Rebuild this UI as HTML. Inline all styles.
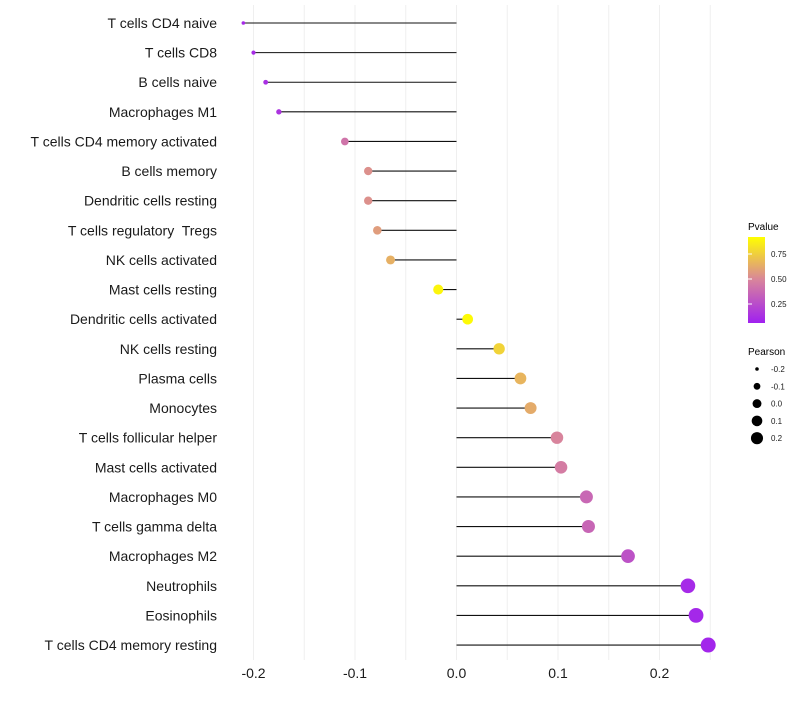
<!DOCTYPE html>
<html><head><meta charset="utf-8"><style>
body{margin:0;background:#fff;font-family:"Liberation Sans",sans-serif}
text{white-space:pre}
</style></head><body>
<svg id="chart" width="800" height="700" xmlns="http://www.w3.org/2000/svg" font-family="Liberation Sans, sans-serif">
<defs><linearGradient id="pg" x1="0" y1="1" x2="0" y2="0">
<stop offset="0" stop-color="#a020f0"/><stop offset="0.5" stop-color="#d8849c"/><stop offset="1" stop-color="#ffff00"/></linearGradient></defs>
<g id="grid"></g><g id="marks"></g><g id="labels"></g><g id="xaxis"></g>
<g id="legend">
<text x="748" y="230" font-size="10">Pvalue</text>
<rect x="748" y="237" width="17" height="86" fill="url(#pg)"/>
<g id="cticks"></g>
<text x="748" y="355" font-size="10">Pearson</text>
<g id="sizeleg"></g>
</g>
</svg>
<script>
const categories=["T cells CD4 naive","T cells CD8","B cells naive","Macrophages M1","T cells CD4 memory activated","B cells memory","Dendritic cells resting","T cells regulatory  Tregs","NK cells activated","Mast cells resting","Dendritic cells activated","NK cells resting","Plasma cells","Monocytes","T cells follicular helper","Mast cells activated","Macrophages M0","T cells gamma delta","Macrophages M2","Neutrophils","Eosinophils","T cells CD4 memory resting"];
const pearson=[-0.21,-0.2,-0.188,-0.175,-0.11,-0.087,-0.087,-0.078,-0.065,-0.018,0.011,0.042,0.063,0.073,0.099,0.103,0.128,0.13,0.169,0.228,0.236,0.248];
const pvalues=[0.05,0.06,0.08,0.1,0.42,0.55,0.55,0.6,0.68,0.96,0.98,0.82,0.7,0.66,0.5,0.46,0.36,0.35,0.25,0.05,0.04,0.03];
const xTicks=[-0.2,-0.1,0,0.1,0.2];
const xTickLabels=["-0.2","-0.1","0.0","0.1","0.2"];
const sizeLegend=[-0.2,-0.1,0,0.1,0.2];
const colorTicks=[0.25,0.5,0.75];
const NS="http://www.w3.org/2000/svg";
const x=v=>456.5+v*1015;
const y=i=>23+i*29.62;
const rad=v=>Math.sqrt(3.24+Math.max(0,v+0.21)/0.458*52.8);
const pY=p=>329-p*100;
function lerp(a,b,t){return a.map((c,k)=>Math.round(c+(b[k]-c)*t));}
function col(p){const P=[160,32,240],M=[216,132,156],Y=[255,255,0];
 const c=p<0.5?lerp(P,M,p/0.5):lerp(M,Y,(p-0.5)/0.5);return `rgb(${c})`;}
function mk(tag,at,parent){const e=document.createElementNS(NS,tag);for(const k in at)e.setAttribute(k,at[k]);document.getElementById(parent).appendChild(e);return e;}
for(let v=-0.2;v<=0.251;v+=0.05){const g=mk('line',{x1:x(v),x2:x(v),y1:5,y2:660,stroke:'#efefef','stroke-width':1},'grid');

}
categories.forEach((c,i)=>{
 const l=mk('line',{x1:x(0),x2:x(pearson[i]),y1:y(i),y2:y(i),stroke:'#111','stroke-width':1.1},'marks');
 
 
 const p=mk('circle',{cx:x(pearson[i]),cy:y(i),r:rad(pearson[i]),fill:col(pvalues[i])},'marks');
 
 
 const t=mk('text',{x:217,y:y(i)+5,'text-anchor':'end','font-size':14,fill:'#1a1a1a'},'labels');t.textContent=c;
 
 
});
xTicks.forEach((v,i)=>{const t=mk('text',{x:x(v),y:678,'text-anchor':'middle','font-size':14,fill:'#1a1a1a'},'xaxis');t.textContent=xTickLabels[i];
 
 });
colorTicks.forEach(p=>{const l=mk('line',{x1:748,x2:752,y1:pY(p),y2:pY(p),stroke:'#fff'},'cticks');
 
 
 const t=mk('text',{x:771,y:pY(p)+3,'font-size':8,fill:'#1a1a1a'},'cticks');t.textContent=p.toFixed(2);
 
 });
sizeLegend.forEach((v,i)=>{const cy=369+i*17.3;
 const c=mk('circle',{cx:757,cy:cy,r:rad(v)*0.85,fill:'#000'},'sizeleg');
 
 
 const t=mk('text',{x:771,y:cy+3,'font-size':8,fill:'#1a1a1a'},'sizeleg');t.textContent=v.toFixed(1);
 
 });
</script>
</body></html>
